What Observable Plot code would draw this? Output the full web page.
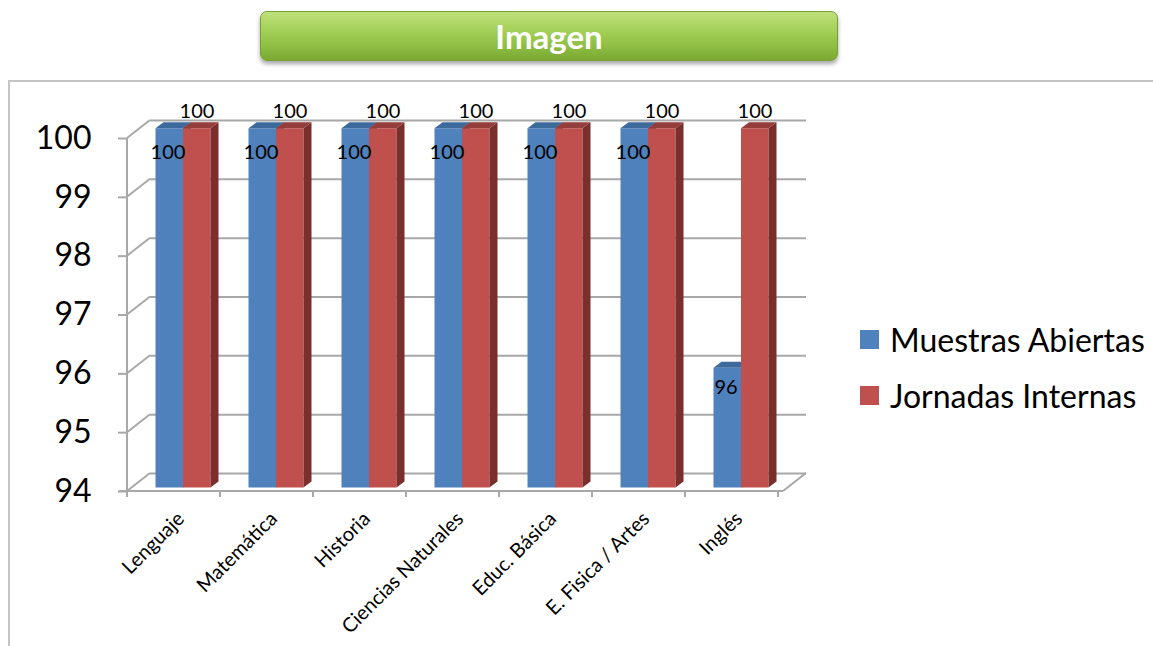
<!DOCTYPE html>
<html>
<head>
<meta charset="utf-8">
<script src="https://cdn.jsdelivr.net/npm/d3@7"></script>
<script src="https://cdn.jsdelivr.net/npm/@observablehq/plot@0.6"></script>
<style>
  html, body { margin: 0; padding: 0; background: #fff; }
  body { width: 1153px; height: 646px; overflow: hidden; position: relative; font-family: Lato, "Open Sans", sans-serif; }
  #title {
    position: absolute; left: 260px; top: 11px; width: 576px; height: 48px;
    border-radius: 7px; border: 1px solid #76a034;
    background: linear-gradient(#bfe07c 0%, #a3cf57 40%, #8fbf44 70%, #7aa833 100%);
    box-shadow: 0 3px 4px rgba(0,0,0,0.35);
    color: #fff; font: bold 33px Lato, sans-serif; text-align: center; line-height: 48px;
  }
  #frame { position: absolute; left: 8px; top: 80px; width: 1170px; height: 620px; border: 2px solid #c4c4c4; box-sizing: border-box; }
  #chart { position: absolute; left: 0; top: 80px; }
  #legend { position: absolute; left: 860px; top: 319px; font: 32px Lato, sans-serif; color: #000; }
  #legend .row { display: flex; align-items: center; height: 40px; margin-bottom: 16px; }
  #legend .sw { width: 19px; height: 19px; margin-right: 11px; }
</style>
</head>
<body>
<div id="title">Imagen</div>
<div id="frame"></div>
<div id="chart"></div>
<div id="legend"></div>
<script>
// ---- data ----
const categories = ["Lenguaje", "Matemática", "Historia", "Ciencias Naturales", "Educ. Básica", "E. Fisica / Artes", "Inglés"];
const seriesNames = ["Muestras Abiertas", "Jornadas Internas"];
const muestrasAbiertas = [100, 100, 100, 100, 100, 100, 96];
const jornadasInternas = [100, 100, 100, 100, 100, 100, 100];
const yTicks = [94, 95, 96, 97, 98, 99, 100];
const colors = ["#4f81bd", "#c0504d"];
const topColors = ["#3d6a9c", "#953d3b"];
const sideColors = ["#2f5180", "#7a2f2d"];

const rows = categories.flatMap((c, i) => [
  {cat: c, series: seriesNames[0], s: 0, value: muestrasAbiertas[i]},
  {cat: c, series: seriesNames[1], s: 1, value: jornadasInternas[i]}
]);

// ---- 3D styling constants (pixels) ----
const WALL = [23, -18];   // back wall offset
const ZOFF = [6.5, -3.5]; // bar front face offset from front plane (at base)
const PERSP = 1.0175;     // slight perspective stretch of bar heights
const DEPTH = [8, -6];    // bar depth
const BAR_W = 27.5;
const GRID = "#a8a8a8";

function wall3d(index, scales, values, dimensions) {
  const x = scales.x, y = scales.y;
  const x0 = dimensions.marginLeft, x1 = dimensions.width - dimensions.marginRight;
  const yMin = y(yTicks[0]), yMax = y(yTicks[yTicks.length - 1]);
  const g = d3.create("svg:g").attr("stroke", GRID).attr("stroke-width", 2).attr("fill", "none");
  for (const t of yTicks) {
    g.append("line").attr("x1", x0).attr("y1", y(t)).attr("x2", x0 + WALL[0]).attr("y2", y(t) + WALL[1]);
  }
  g.append("line").attr("x1", x0).attr("y1", yMax).attr("x2", x0).attr("y2", yMin + 6);
  g.append("line").attr("x1", x0 - 8).attr("y1", yMin).attr("x2", x1).attr("y2", yMin);
  g.append("line").attr("x1", x1).attr("y1", yMin).attr("x2", x1 + WALL[0]).attr("y2", yMin + WALL[1]);
  const bw = x.bandwidth();
  for (let i = 0; i <= categories.length; i++) {
    const xx = x0 + i * bw;
    g.append("line").attr("x1", xx).attr("y1", yMin).attr("x2", xx).attr("y2", yMin + 6);
  }
  return g.node();
}

function bars3d(index, scales) {
  const x = scales.x, y = scales.y;
  const bw = x.bandwidth();
  const y0 = y(yTicks[0]);
  const g = d3.create("svg:g");
  const poly = (pts, fill) => g.append("polygon").attr("points", pts.map(p => p.join(",")).join(" ")).attr("fill", fill);
  for (const i of index) {
    const r = rows[i];
    const xl = x(r.cat) + (bw - 2 * BAR_W) / 2 + r.s * BAR_W + ZOFF[0];
    const xr = xl + BAR_W;
    const yb = y0 + ZOFF[1];
    const yt = yb - (y0 - y(r.value)) * PERSP;
    poly([[xl, yt], [xr, yt], [xr, yb], [xl, yb]], colors[r.s]);
    poly([[xl, yt], [xl + DEPTH[0], yt + DEPTH[1]], [xr + DEPTH[0], yt + DEPTH[1]], [xr, yt]], topColors[r.s]);
    poly([[xr, yt], [xr + DEPTH[0], yt + DEPTH[1]], [xr + DEPTH[0], yb + DEPTH[1]], [xr, yb]], sideColors[r.s]);
  }
  return g.node();
}

const chart = Plot.plot({
  width: 1153,
  height: 566,
  marginLeft: 127,
  marginRight: 370,
  marginTop: 58,
  marginBottom: 155,
  style: {background: "transparent", fontFamily: "Lato, sans-serif", overflow: "visible"},
  x: {type: "band", domain: categories, padding: 0},
  y: {domain: [94, 100]},
  marks: [
    Plot.ruleY(yTicks, {stroke: GRID, strokeWidth: 2, dx: WALL[0], dy: WALL[1]}),
    Plot.dot(rows, {x: "cat", y: "value", r: 0, render: wall3d}),
    Plot.axisY({ticks: yTicks, tickSize: 9, tickPadding: 27, fontSize: 32, stroke: GRID, strokeWidth: 2, fill: "#000", label: null, tickFormat: d => String(d)}),
    Plot.axisX({tickSize: 0, tickPadding: 24, tickRotate: -45, fontSize: 20, fill: "#000", label: null, dx: 4}),
    Plot.dot(rows, {x: "cat", y: "value", r: 0, render: bars3d}),
    Plot.text(rows.filter(d => d.s === 0), {x: "cat", y: "value", text: d => String(d.value), dx: -9, dy: 14, fontSize: 20, fill: "#000"}),
    Plot.text(rows.filter(d => d.s === 1), {x: "cat", y: "value", text: d => String(d.value), dx: 20, dy: -27, fontSize: 20, fill: "#000"})
  ]
});
document.getElementById("chart").appendChild(chart);

const legend = d3.select("#legend");
seriesNames.forEach((name, i) => {
  const row = legend.append("div").attr("class", "row");
  row.append("div").attr("class", "sw").style("background", colors[i]);
  row.append("span").text(name);
});
</script>
</body>
</html>
